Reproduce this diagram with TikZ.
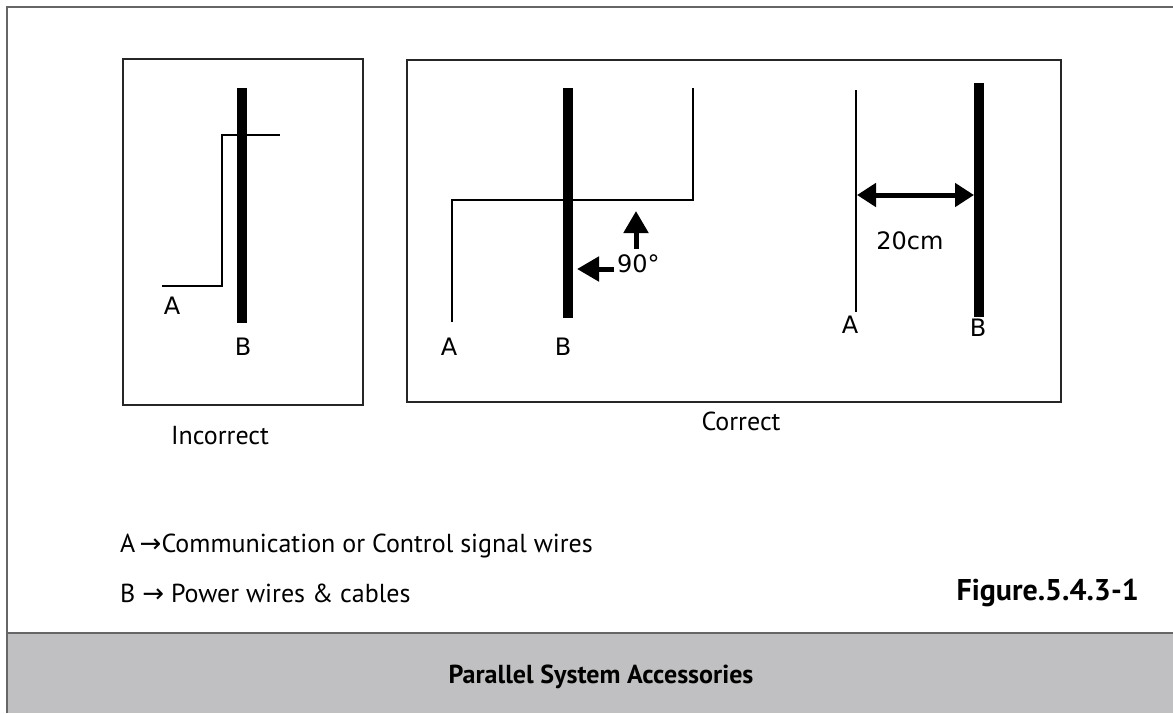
\documentclass[tikz,border=0pt]{standalone}
\usepackage{fontspec}
\setmainfont{PT Sans}
\newfontfamily\lblfont{DejaVu Sans}
\usetikzlibrary{arrows.meta}
\definecolor{framegray}{HTML}{666666}
\definecolor{bandgray}{HTML}{C0C0C2}
\tikzset{
  panel/.style={draw=black!85, line width=2pt},
  thinwire/.style={draw=black, line width=1.8pt},
  thickwire/.style={draw=black, line width=10pt},
  lbl/.style={font=\lblfont\fontsize{24}{28}\selectfont, inner sep=0pt},
  captext/.style={font=\fontsize{26}{30}\selectfont, inner sep=0pt},
  fatarrow/.style={draw=black, line width=5pt, -{Triangle[width=24pt,length=22pt]}},
}
\begin{document}
\begin{tikzpicture}[x=1pt,y=-1pt]
\useasboundingbox (0,0) rectangle (1173,713);
% background band
\fill[bandgray] (7,633) rectangle (1173,713);
\draw[framegray, line width=2pt] (1173,7) -- (7,7) -- (7,713);
\draw[framegray, line width=2pt] (7,633) -- (1173,633);

% Incorrect panel
\draw[panel] (123,59) rectangle (363,405);
\draw[thickwire] (242,88) -- (242,323);
\draw[thinwire] (162,286) -- (222,286) -- (222,135) -- (280,135);
\node[lbl] (ia) at (172,306) {A};
\node[lbl] (ib) at (243,347) {B};
\node[captext] (inc) at (220,436) {Incorrect};

% Correct panel
\draw[panel] (407,60) rectangle (1061,402);
\draw[thickwire] (568,88) -- (568,318);
\draw[thinwire] (452,322) -- (452,200) -- (693,200) -- (693,88);
\node[lbl] (ca) at (449,347) {A};
\node[lbl] (cb) at (563,347) {B};
\coordinate (upS) at (636,249);
\coordinate (upE) at (636,211);
\coordinate (lfS) at (614,269);
\coordinate (lfE) at (577,269);
\draw[fatarrow] (upS) -- (upE);
\draw[fatarrow] (lfS) -- (lfE);
\node[lbl, anchor=west] (deg) at (617,264) {90°};

\draw[thinwire] (856,90) -- (856,312);
\draw[thickwire] (979,83) -- (979,317);
\coordinate (dl) at (857,195);
\coordinate (dr) at (974,195);
\draw[draw=black, line width=5pt, {Triangle[width=23pt,length=19pt]}-{Triangle[width=23pt,length=19pt]}] (dl) -- (dr);
\node[lbl] (dist) at (910,241) {20cm};
\node[lbl] (ra) at (850,325) {A};
\node[lbl] (rb) at (978,328) {B};
\node[captext] (cor) at (741,421) {Correct};

% legend
\node[captext, anchor=west] (la) at (120,546) {A\,{\lblfont →}Communication or Control signal wires};
\node[captext, anchor=west] (lb) at (120,593) {B {\lblfont →} Power wires \& cables};
\node[captext, font=\bfseries\fontsize{30}{34}\selectfont, anchor=east] (fig) at (1139,593) {Figure.5.4.3-1};
\node[captext, font=\bfseries\fontsize{26}{30}\selectfont] (title) at (601,677) {Parallel System Accessories};
\end{tikzpicture}
\end{document}
